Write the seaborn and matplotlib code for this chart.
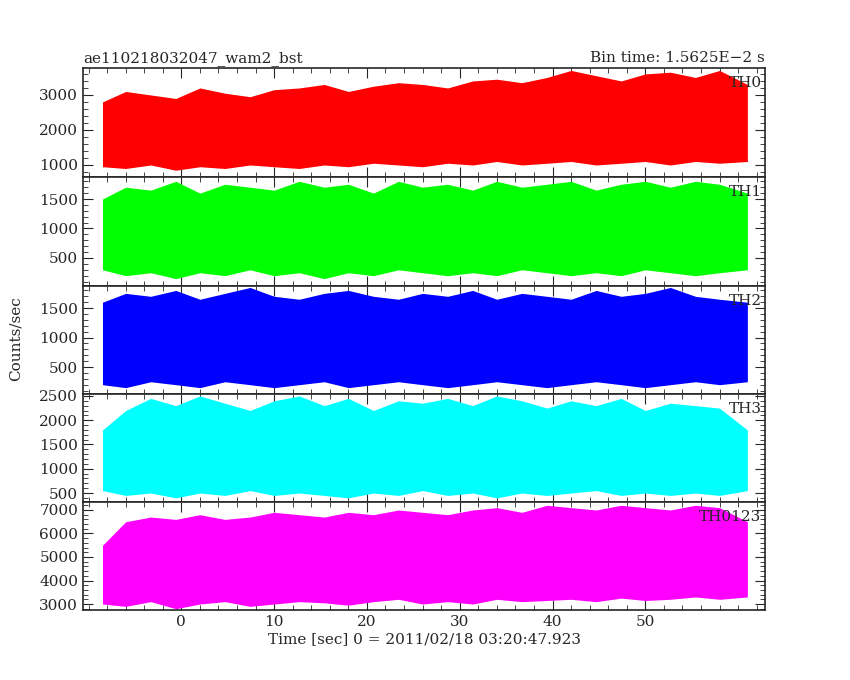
import matplotlib
matplotlib.use("Agg")
import matplotlib.pyplot as plt
import seaborn as sns
from matplotlib.ticker import AutoMinorLocator

sns.set_style("ticks")
plt.rcParams['font.family'] = ['DejaVu Serif']

# envelope samples
times = [-8.5, -6, -3.3, -0.6, 2, 4.7, 7.4, 10, 12.7, 15.4, 18, 20.7, 23.4, 26, 28.7,
         31.4, 34, 36.7, 39.4, 42, 44.7, 47.4, 50, 52.7, 55.4, 58, 61]
th0_lo = [950, 900, 1000, 850, 950, 900, 1000, 950, 900, 1000, 950, 1050, 1000, 950,
          1050, 1000, 1100, 1000, 1050, 1100, 1000, 1050, 1100, 1000, 1100, 1050, 1100]
th0_hi = [2800, 3100, 3000, 2900, 3200, 3050, 2950, 3150, 3200, 3300, 3100, 3250, 3350, 3300,
          3200, 3400, 3450, 3350, 3500, 3700, 3550, 3400, 3600, 3650, 3500, 3700, 3300]
th1_lo = [300, 200, 250, 150, 250, 200, 300, 200, 250, 150, 250, 200, 300, 250,
          200, 250, 200, 300, 250, 200, 250, 200, 300, 250, 200, 250, 300]
th1_hi = [1500, 1700, 1650, 1800, 1600, 1750, 1700, 1650, 1800, 1700, 1750, 1600, 1800, 1700,
          1750, 1650, 1800, 1700, 1750, 1800, 1650, 1750, 1800, 1700, 1800, 1750, 1600]
th2_lo = [200, 150, 250, 200, 150, 250, 200, 150, 200, 250, 150, 200, 250, 200,
          150, 200, 250, 200, 150, 200, 250, 200, 150, 200, 250, 200, 250]
th2_hi = [1600, 1750, 1700, 1800, 1650, 1750, 1850, 1700, 1650, 1750, 1800, 1700, 1650, 1750,
          1700, 1800, 1650, 1750, 1700, 1650, 1800, 1700, 1750, 1850, 1700, 1650, 1600]
th3_lo = [550, 450, 500, 400, 500, 450, 550, 450, 500, 450, 400, 500, 450, 550,
          450, 500, 400, 500, 450, 500, 550, 450, 500, 450, 500, 450, 550]
th3_hi = [1800, 2200, 2450, 2300, 2500, 2350, 2200, 2400, 2500, 2300, 2450, 2200, 2400, 2350,
          2450, 2300, 2500, 2400, 2250, 2400, 2300, 2450, 2200, 2350, 2300, 2250, 1800]
th4_lo = [3000, 2900, 3100, 2800, 3000, 3100, 2900, 3000, 3100, 3050, 2950, 3100, 3200, 3000,
          3100, 3000, 3200, 3100, 3150, 3200, 3100, 3250, 3150, 3200, 3300, 3200, 3300]
th4_hi = [5500, 6500, 6700, 6600, 6800, 6600, 6700, 6900, 6800, 6700, 6900, 6800, 7000, 6900,
          6800, 7000, 7100, 6900, 7200, 7100, 7000, 7200, 7100, 7000, 7200, 7100, 6500]

panels = [
    ("TH0", "#ff0000", th0_lo, th0_hi, (657, 3770), [1000, 2000, 3000]),
    ("TH1", "#00ff00", th1_lo, th1_hi, (25, 1873), [500, 1000, 1500]),
    ("TH2", "#0000ff", th2_lo, th2_hi, (42, 1875), [500, 1000, 1500]),
    ("TH3", "#00ffff", th3_lo, th3_hi, (315, 2540), [500, 1000, 1500, 2000, 2500]),
    ("TH0123", "#ff00ff", th4_lo, th4_hi, (2745, 7340), [3000, 4000, 5000, 6000, 7000]),
]
edges_px = [68, 177, 286, 394, 502, 610]

fig = plt.figure(figsize=(8.5, 6.8), dpi=100)
axes = []
for i, (name, col, lo, hi, ylim, yt) in enumerate(panels):
    top, bot = edges_px[i], edges_px[i + 1]
    ax = fig.add_axes([83 / 850, 1 - bot / 680, 682 / 850, (bot - top) / 680])
    ax.fill_between(times, lo, hi, color=col, lw=0)
    ax.set_xlim(-10.6, 62.9)
    ax.set_ylim(*ylim)
    ax.set_yticks(yt)
    ax.yaxis.set_minor_locator(AutoMinorLocator(5))
    ax.xaxis.set_minor_locator(AutoMinorLocator(5))
    ax.set_xticks([0, 10, 20, 30, 40, 50])
    ax.tick_params(which="both", direction="in", top=True, right=True, labelsize=11)
    ax.tick_params(which="major", length=7)
    ax.tick_params(which="minor", length=3.5)
    for s in ax.spines.values():
        s.set_linewidth(1.2)
    ax.text(0.995, 0.93, name, transform=ax.transAxes, ha="right", va="top", fontsize=11)
    if i < 4:
        ax.tick_params(labelbottom=False)
    axes.append(ax)

axes[0].set_title("ae110218032047_wam2_bst", loc="left", fontsize=11, pad=4)
axes[0].set_title("Bin time: 1.5625E\u22122 s", loc="right", fontsize=11, pad=4)
axes[-1].set_xlabel("Time [sec] 0 = 2011/02/18 03:20:47.923", fontsize=11, labelpad=2)
fig.text(0.018, 1 - 339 / 680, "Counts/sec", rotation=90, va="center", ha="center", fontsize=11)

fig.savefig("out.png", dpi=100, facecolor="white")
